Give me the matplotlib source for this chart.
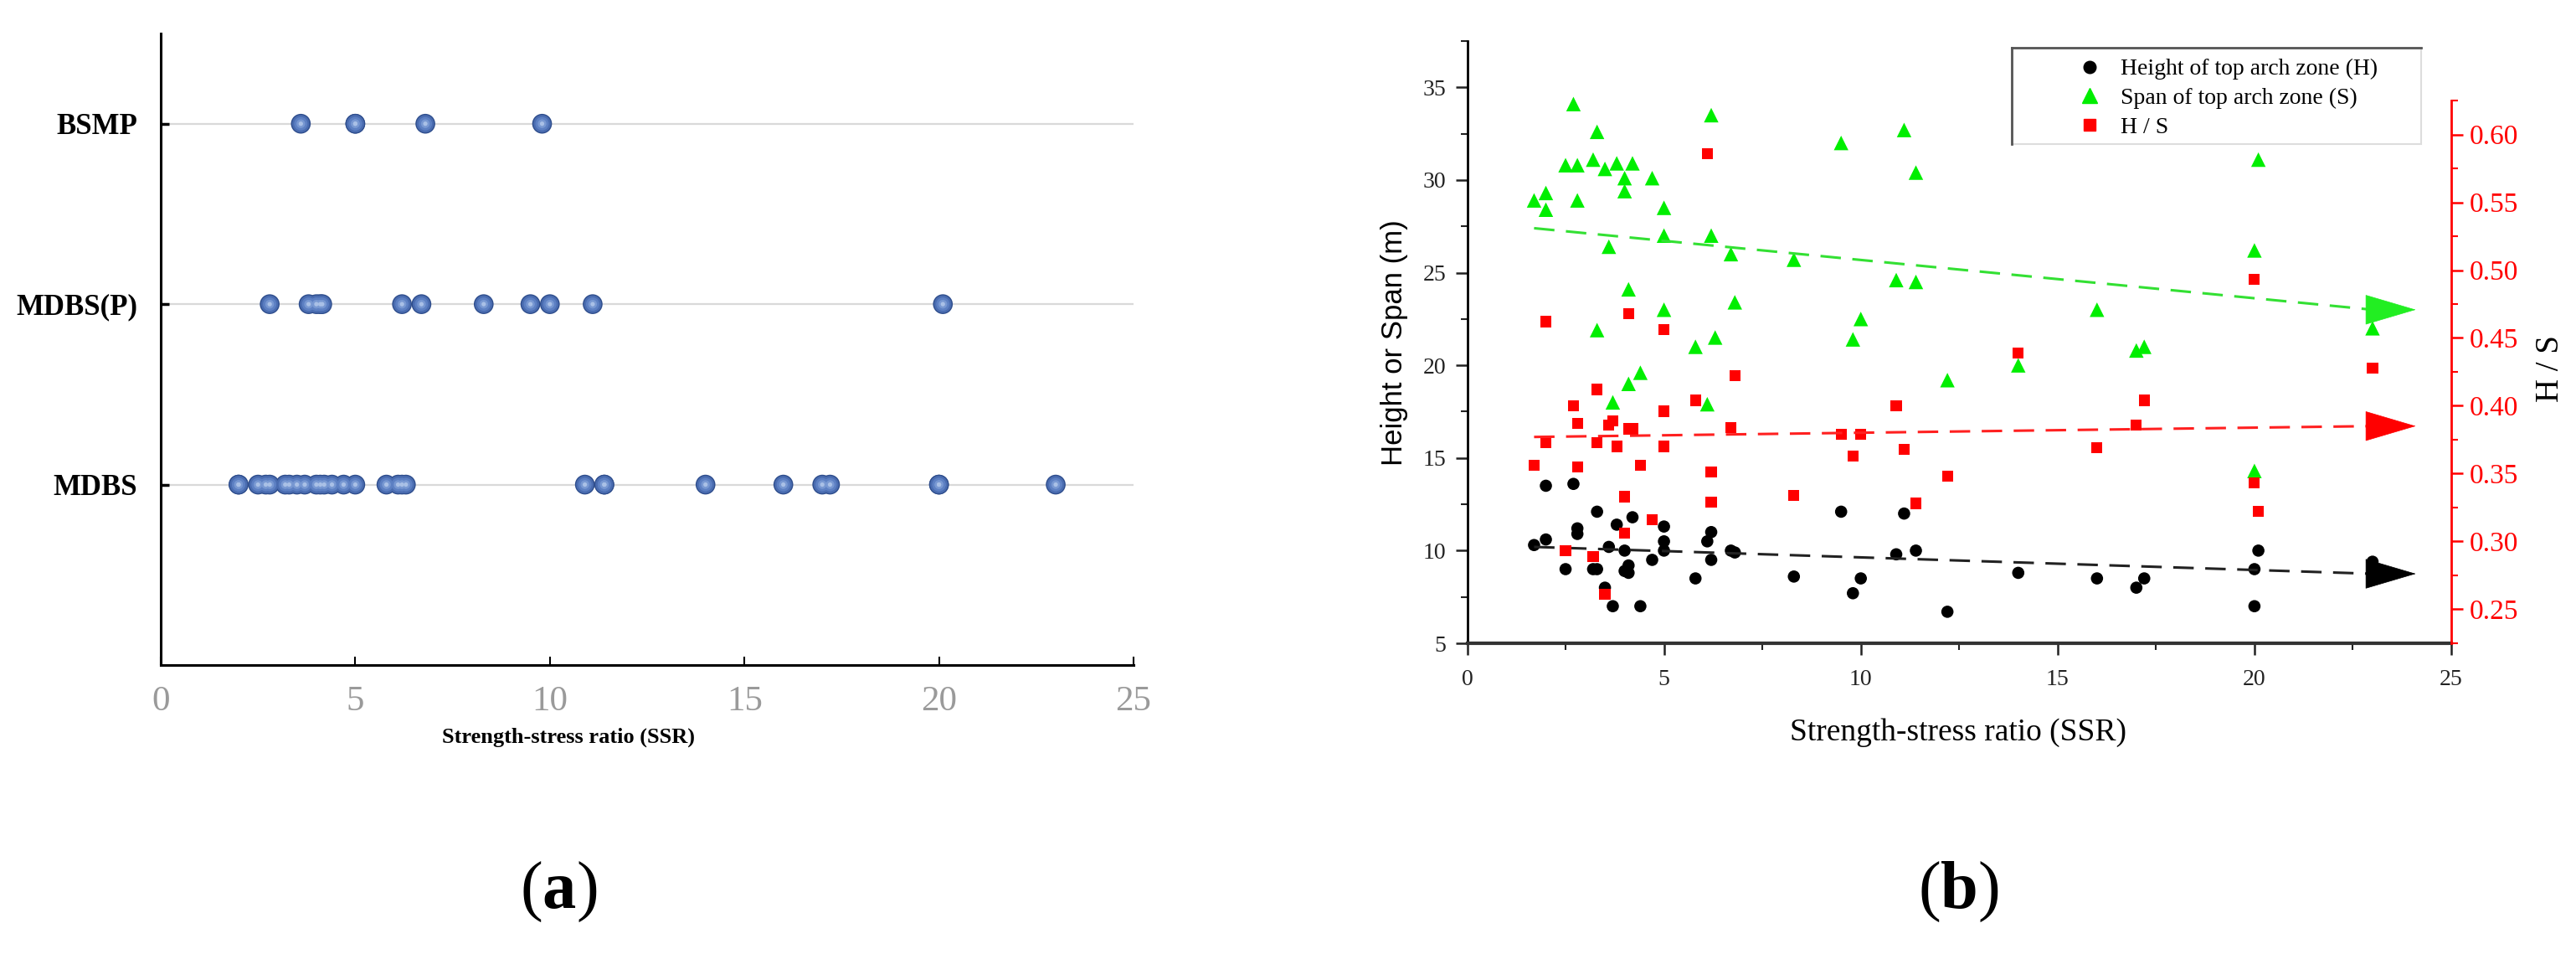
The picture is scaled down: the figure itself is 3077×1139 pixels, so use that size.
import numpy as np
import matplotlib
matplotlib.use("Agg")
import matplotlib.pyplot as plt
from matplotlib.lines import Line2D
from matplotlib.patches import Rectangle
from matplotlib.ticker import MultipleLocator, FixedLocator, FormatStrFormatter

plt.rcParams['font.family'] = ['Liberation Serif', 'DejaVu Sans']
plt.rcParams['mathtext.fontset'] = 'custom'
plt.rcParams['mathtext.rm'] = 'Liberation Serif'
plt.rcParams['mathtext.bf'] = 'Liberation Serif:bold'

# ---------------- Data: panel (a) ----------------
categories = ["MDBS", "MDBS(P)", "BSMP"]
ssr_MDBS = [2.0, 2.0, 2.5, 2.7, 2.8, 3.2, 3.3, 3.5, 3.7, 4.0, 4.1, 4.2, 4.4, 4.7, 5.0,
            5.8, 6.1, 6.2, 6.3, 10.9, 11.4, 11.4, 14.0, 16.0, 17.0, 17.2, 20.0, 20.0, 23.0]
ssr_MDBSP = [2.8, 3.8, 4.0, 4.1, 4.15, 6.2, 6.7, 8.3, 9.5, 10.0, 11.1, 20.1]
ssr_BSMP = [3.6, 5.0, 5.0, 6.8, 9.8]
xticks_a = [0, 5, 10, 15, 20, 25]

# ---------------- Data: panel (b) ----------------
ssr_H = [1.7, 2.0, 2.0, 2.5, 2.7, 2.8, 2.8, 3.2, 3.3, 3.3, 3.5, 3.6, 3.7, 3.8, 4.0, 4.0,
         4.1, 4.1, 4.2, 4.4, 4.7, 5.0, 5.0, 5.0, 5.8, 6.1, 6.2, 6.2, 6.7, 6.8, 8.3, 9.5,
         9.8, 10.0, 10.9, 11.1, 11.4, 12.2, 14.0, 16.0, 17.0, 17.2, 20.1, 20.0, 20.0, 23.0]
H = [10.3, 10.6, 13.5, 9.0, 13.6, 11.2, 10.9, 9.0, 9.0, 12.1, 8.0, 10.2, 7.0, 11.4, 10.0, 8.9,
     9.2, 8.8, 11.8, 7.0, 9.5, 11.3, 10.5, 10.0, 8.5, 10.5, 11.0, 9.5, 10.0, 9.9, 8.6, 12.1,
     7.7, 8.5, 9.8, 12.0, 10.0, 6.7, 8.8, 8.5, 8.0, 8.5, 10.0, 9.0, 7.0, 9.4]

ssr_S = [1.7, 2.0, 2.0, 2.5, 2.7, 2.8, 2.8, 3.2, 3.3, 3.3, 3.5, 3.6, 3.7, 3.8, 4.0, 4.0,
         4.1, 4.1, 4.2, 4.4, 4.7, 5.0, 5.0, 5.0, 5.8, 6.1, 6.2, 6.2, 6.3, 6.7, 6.8, 8.3,
         9.5, 9.8, 10.0, 10.9, 11.1, 11.4, 11.4, 12.2, 14.0, 16.0, 17.0, 17.2, 20.1, 20.0,
         20.0, 23.0]
S = [28.9, 29.3, 28.4, 30.8, 34.1, 30.8, 28.9, 31.1, 32.6, 21.9, 30.6, 26.4, 18.0, 30.9, 30.1, 29.4,
     24.1, 19.0, 30.9, 19.6, 30.1, 28.5, 27.0, 23.0, 21.0, 17.9, 33.5, 27.0, 21.5, 26.0, 23.4, 25.7,
     32.0, 21.4, 22.5, 24.6, 32.7, 30.4, 24.5, 19.2, 20.0, 23.0, 20.8, 21.0, 31.1, 26.2,
     14.3, 22.0]

ssr_HS = [1.7, 2.0, 2.0, 2.5, 2.7, 2.8, 2.8, 3.2, 3.3, 3.3, 3.5, 3.6, 3.7, 3.8, 4.0, 4.0,
          4.1, 4.1, 4.2, 4.4, 4.7, 5.0, 5.0, 5.0, 5.8, 6.1, 6.2, 6.2, 6.8, 6.7, 8.3, 9.5,
          9.8, 10.0, 10.9, 11.1, 11.4, 12.2, 14.0, 16.0, 17.0, 17.2, 20.0, 20.0, 20.1, 23.0]
HS = [0.356, 0.462, 0.373, 0.293, 0.400, 0.387, 0.355, 0.289, 0.412, 0.373, 0.261, 0.386, 0.389,
      0.370, 0.333, 0.306, 0.468, 0.383, 0.383, 0.356, 0.316, 0.456, 0.396, 0.370, 0.404, 0.586,
      0.351, 0.329, 0.422, 0.384, 0.334, 0.379, 0.363, 0.379, 0.400, 0.368, 0.328, 0.348, 0.439,
      0.369, 0.386, 0.404, 0.493, 0.343, 0.322, 0.428]

# trend lines
trend_x = [1.7, 23.0]
trend_H = [10.2, 8.75]
trend_S = [27.4, 23.0]
trend_HS = [0.377, 0.385]

# right-axis ticks
hs_major = [0.25, 0.30, 0.35, 0.40, 0.45, 0.50, 0.55, 0.60]

W, Hpx = 3077, 1139
fig = plt.figure(figsize=(W / 100, Hpx / 100), dpi=100)

def fx(px):
    return px / W

def fy(py):
    return 1 - py / Hpx

# ---------------- Panel (a) ----------------
axa = fig.add_axes([fx(192), fy(794), fx(1354) - fx(192), fy(40) - fy(794)])
axa.set_xlim(0, 25)
axa.set_ylim(0, 3.5)
for i, cat in enumerate(categories):
    axa.plot([0, 25], [i + 1, i + 1], color='#d9d9d9', lw=1.6, zorder=1)

rows = [ssr_MDBS, ssr_MDBSP, ssr_BSMP]
layers = [(17.0, '#2e4d8c'), (15.0, '#4a6cb0'), (11.5, '#5d80c3'), (7.5, '#7898d2'), (3.8, '#a9c0e6')]
for i, vals in enumerate(rows):
    yv = np.full(len(vals), i + 1.0)
    for sz, col in layers:
        axa.scatter(vals, yv, s=sz ** 2, color=col, edgecolors='none', zorder=3)

axa.set_yticks([1, 2, 3])
axa.set_yticklabels(categories, fontsize=25, fontweight='bold')
axa.set_xticks(xticks_a)
axa.set_xticklabels([str(v) for v in xticks_a], fontsize=31, color='#9a9a9a')
axa.tick_params(axis='x', direction='in', length=7, width=1.5, pad=18)
axa.tick_params(axis='y', direction='in', length=7, width=2.5, pad=20)
for sp in ['top', 'right']:
    axa.spines[sp].set_visible(False)
axa.spines['left'].set_linewidth(2.2)
axa.spines['bottom'].set_linewidth(2.2)
axa.text((679 - 192) / 1162, -0.115, "Strength-stress ratio (SSR)", transform=axa.transAxes,
         ha='center', va='center', fontsize=19, fontweight='bold')

# ---------------- Panel (b) ----------------
axb = fig.add_axes([fx(1752.5), fy(768), fx(2928) - fx(1752.5), fy(49) - fy(768)])
axb.set_xlim(0, 25)
axb.set_ylim(5, 37.5)
axr = axb.twinx()
axr.set_ylim(0.2249, 0.6689)

axb.scatter(ssr_S, S, marker='^', s=12.5 ** 2, color='#00ee00', edgecolors='none', zorder=3)
axb.scatter(ssr_H, H, marker='o', s=10.5 ** 2, color='black', edgecolors='none', zorder=3)
axr.scatter(ssr_HS, HS, marker='s', s=9.5 ** 2, color='#ff0000', edgecolors='none', zorder=3)

dash = (8, 4.5)
axb.plot(trend_x, trend_S, color='#33e033', lw=2.2, dashes=dash, zorder=4)
axb.plot(trend_x, trend_H, color='#222222', lw=2.2, dashes=dash, zorder=4)
axr.plot(trend_x, trend_HS, color='#ff2020', lw=2.2, dashes=dash, zorder=4)

arrow_len = 1.1
for ax_, ys, col in [(axb, trend_S, '#22ee22'), (axb, trend_H, 'black'), (axr, trend_HS, '#ff0000')]:
    ax_.annotate('', xy=(trend_x[-1] + arrow_len, ys[-1]), xytext=(trend_x[-1] - 0.1, ys[-1]),
                 arrowprops=dict(arrowstyle='-|>,head_length=2.1,head_width=0.62', color=col,
                                 lw=0.5, shrinkA=0, shrinkB=0, mutation_scale=20), zorder=5)

axb.xaxis.set_major_locator(MultipleLocator(5))
axb.xaxis.set_minor_locator(MultipleLocator(2.5))
axb.yaxis.set_major_locator(MultipleLocator(5))
axb.yaxis.set_minor_locator(MultipleLocator(2.5))
axr.yaxis.set_major_locator(FixedLocator(hs_major))
axr.yaxis.set_minor_locator(FixedLocator([v + 0.025 for v in hs_major] + [hs_major[0] - 0.025]))
axr.yaxis.set_major_formatter(FormatStrFormatter('%.2f'))

axb.tick_params(axis='both', which='major', direction='out', length=10, width=1.8, labelsize=20,
                colors='#222222')
axb.tick_params(axis='both', which='minor', direction='out', length=6, width=1.5, colors='#222222')
axb.tick_params(axis='x', pad=12)
axb.tick_params(axis='y', pad=8)
axr.tick_params(axis='y', which='major', direction='out', length=10, width=1.8, labelsize=24,
                colors='#ff0000', pad=6)
axr.tick_params(axis='y', which='minor', direction='out', length=6, width=1.5, colors='#ff0000')

axb.spines['top'].set_visible(False)
axr.spines['top'].set_visible(False)
axb.spines['right'].set_visible(False)
axr.spines['left'].set_visible(False)
axr.spines['bottom'].set_visible(False)
axb.spines['bottom'].set_linewidth(3)
axb.spines['bottom'].set_color('#333333')
axb.spines['left'].set_linewidth(2)
axr.spines['right'].set_color('#ff0000')
axr.spines['right'].set_linewidth(2)
axr.spines['right'].set_bounds(0.2249, 0.625)

axb.set_ylabel("Height or Span (m)", family=['Liberation Sans'], fontsize=25)
axb.yaxis.set_label_coords(-0.060, 0.499)
axr.set_ylabel("H / S", fontsize=28, rotation=90)
axr.yaxis.set_label_coords(1.085, 0.456)
axb.set_xlabel("Strength-stress ratio (SSR)", fontsize=27)
axb.xaxis.set_label_coords(0.499, -0.125)

# legend
handles = [Line2D([], [], marker='o', ls='none', color='black', markersize=10.5),
           Line2D([], [], marker='^', ls='none', color='#00ee00', markersize=12.5),
           Line2D([], [], marker='s', ls='none', color='#ff0000', markersize=9.5)]
labels = ["Height of top arch zone (H)", "Span of top arch zone (S)", "H / S"]
fig.add_artist(Rectangle((fx(2403), fy(172)), fx(2892) - fx(2403), fy(57) - fy(172),
                         transform=fig.transFigure, facecolor='white', edgecolor='#dddddd', lw=1.5,
                         zorder=10))
fig.add_artist(Line2D([fx(2403), fx(2892)], [fy(57), fy(57)], transform=fig.transFigure,
                      color='#555555', lw=2, zorder=11))
fig.add_artist(Line2D([fx(2403), fx(2403)], [fy(57), fy(172)], transform=fig.transFigure,
                      color='#555555', lw=2, zorder=11))
leg = fig.legend(handles, labels, loc='upper left', bbox_to_anchor=(fx(2482), fy(70)),
                 frameon=False, fontsize=20, handlelength=1.0, handletextpad=0.85,
                 borderpad=0, borderaxespad=0, labelspacing=0.33)
leg.set_zorder(12)

# panel labels
fig.text(fx(667), fy(1065), r"($\mathbf{a}$)", ha='center', va='center', fontsize=58)
fig.text(fx(2339), fy(1065), r"($\mathbf{b}$)", ha='center', va='center', fontsize=58)

fig.savefig("out.png", dpi=100)
